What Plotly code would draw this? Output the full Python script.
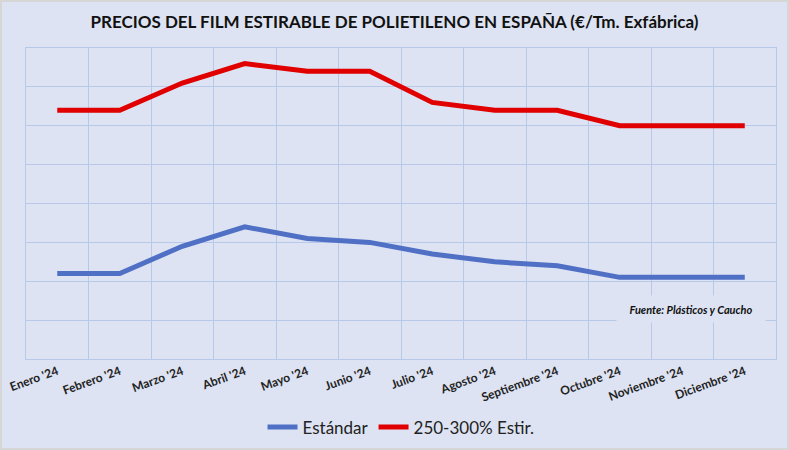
import plotly.graph_objects as go

# Datos (€/Tm)
meses = ["Enero '24", "Febrero '24", "Marzo '24", "Abril '24", "Mayo '24", "Junio '24",
         "Julio '24", "Agosto '24", "Septiembre '24", "Octubre '24", "Noviembre '24", "Diciembre '24"]
estandar = [1220, 1220, 1290, 1340, 1310, 1300, 1270, 1250, 1240, 1210, 1210, 1210]
estirado = [1640, 1640, 1710, 1760, 1740, 1740, 1660, 1640, 1640, 1600, 1600, 1600]

fondo = "#dde3f2"
rejilla = "#b7c8e8"
fuente = "Lato"

fig = go.Figure()

fig.add_trace(go.Scatter(x=meses, y=estandar, mode="lines", name="Estándar",
                         line=dict(color="#5070c6", width=5)))
fig.add_trace(go.Scatter(x=meses, y=estirado, mode="lines", name="250-300% Estir.",
                         line=dict(color="#e00000", width=5)))

fig.update_layout(
    width=789, height=450,
    paper_bgcolor=fondo, plot_bgcolor=fondo,
    margin=dict(l=26, r=13, t=48, b=91, autoexpand=False),
    title=dict(text="<b>PRECIOS DEL FILM ESTIRABLE DE POLIETILENO EN ESPAÑA (€/Tm. Exfábrica)</b>",
               x=0.5, xref="container", xanchor="center",
               y=1 - 22 / 450, yref="container", yanchor="middle",
               font=dict(family=fuente, size=17, color="#111111")),
    legend=dict(orientation="h", x=0.5, xanchor="center", y=-0.22, yanchor="middle",
                font=dict(family=fuente, size=17, color="#222222"),
                bgcolor="rgba(0,0,0,0)", itemwidth=30),
    showlegend=True,
)

fig.update_xaxes(type="category", range=[-0.5, 11.5], tickson="boundaries",
                 showgrid=True, gridcolor=rejilla, gridwidth=1,
                 showline=True, linecolor=rejilla, mirror=True,
                 ticks="", tickangle=-20, automargin=False,
                 tickfont=dict(family=fuente, size=12, color="#222222"))
fig.update_xaxes(tickvals=meses, ticktext=["<b>" + m + "</b>" for m in meses])

fig.update_yaxes(range=[1000, 1800], dtick=100, showticklabels=False,
                 showgrid=True, gridcolor=rejilla, gridwidth=1, zeroline=False,
                 showline=True, linecolor=rejilla, mirror=True, automargin=False)

fig.add_annotation(text="<b><i>Fuente: Plásticos y Caucho</i></b>",
                   xref="paper", yref="paper", x=(691 - 26) / 750, y=(359 - 308.5) / 311,
                   xanchor="center", yanchor="middle", showarrow=False,
                   font=dict(family=fuente, size=11, color="#111111"),
                   bgcolor=fondo, width=146, height=24)

# borde gris fino alrededor de todo el gráfico
fig.add_shape(type="rect", xref="paper", yref="paper",
              x0=-25 / 750, x1=1 + 12 / 750, y0=-90 / 311, y1=1 + 47 / 311,
              line=dict(color="#d6d6d6", width=2), fillcolor="rgba(0,0,0,0)", layer="above")

# quitar el margen por defecto del body para que el gráfico ocupe la ventana
fig.write_html("out.html", config={"displayModeBar": False},
               post_script="document.body.style.margin='0';")
